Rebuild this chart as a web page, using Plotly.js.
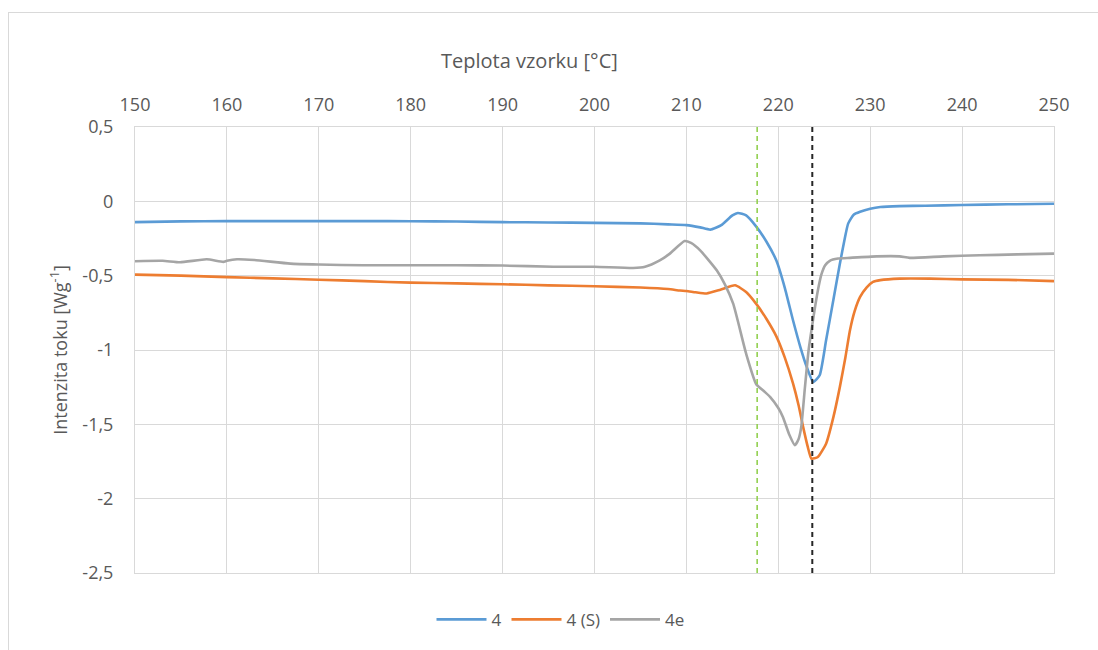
<!DOCTYPE html>
<html>
<head>
<meta charset="utf-8">
<script src="https://cdn.plot.ly/plotly-3.0.1.min.js"></script>
<style>
html,body{margin:0;padding:0;background:#fff;overflow:hidden;}
#wrap{position:relative;width:1098px;height:650px;}
#chart{width:1098px;height:650px;}
#frame{position:absolute;left:8px;top:12px;width:1200px;height:800px;border-left:1px solid #d9d9d9;border-top:1px solid #d9d9d9;pointer-events:none;}
</style>
</head>
<body>
<div id="wrap"><div id="chart"></div><div id="frame"></div></div>
<script>
// Series "4"
const t4 = [150,155,160,165,170,175,180,185,190,195,200,205,208,210,211.5,212.6,213.8,215,215.6,216.5,217.6,218.7,219.8,220.7,221.6,222.4,223.1,223.8,224.5,225.2,226,226.7,227.2,227.6,228.2,228.9,230,231.1,233.2,236,240,245,250];
const v4 = [-0.14,-0.135,-0.133,-0.133,-0.133,-0.133,-0.134,-0.136,-0.14,-0.142,-0.145,-0.148,-0.155,-0.16,-0.175,-0.19,-0.16,-0.095,-0.078,-0.095,-0.17,-0.27,-0.40,-0.58,-0.80,-0.98,-1.115,-1.215,-1.17,-0.935,-0.66,-0.42,-0.26,-0.15,-0.09,-0.07,-0.05,-0.038,-0.032,-0.03,-0.025,-0.02,-0.016];
// Series "4 (S)"
const t4s = [150,155,160,165,170,175,180,185,190,195,200,205,208,209.3,210,211,212.2,213.7,215.3,216.5,217.6,218.7,219.8,220.7,221.6,222.2,222.7,223.2,223.6,224.3,225.2,226,226.7,227.3,227.8,228.3,228.9,229.6,230.3,231.1,233.2,236.5,240,245,250];
const v4s = [-0.493,-0.50,-0.51,-0.518,-0.527,-0.537,-0.547,-0.552,-0.558,-0.565,-0.571,-0.58,-0.59,-0.6,-0.603,-0.612,-0.62,-0.595,-0.565,-0.61,-0.69,-0.79,-0.91,-1.05,-1.225,-1.37,-1.517,-1.65,-1.73,-1.72,-1.63,-1.45,-1.248,-1.05,-0.867,-0.74,-0.643,-0.58,-0.542,-0.53,-0.52,-0.52,-0.525,-0.528,-0.537];
// Series "4e"
const t4e = [150,153,154.9,157.8,159.6,160,161.1,163,166.9,170,174.8,180,185,190,195.5,200,204.2,205.5,207.1,208.2,209.8,210.5,211.5,213.3,214.2,215.1,216.5,217.6,218.5,219.1,220.0,220.5,221.2,221.8,222.2,222.5,222.9,223.3,223.7,224.0,224.4,224.7,225.1,225.6,226.5,227.8,230.7,233.2,234.3,238,241.9,246,250];
const v4e = [-0.403,-0.40,-0.41,-0.39,-0.407,-0.40,-0.39,-0.395,-0.419,-0.425,-0.43,-0.43,-0.43,-0.432,-0.44,-0.44,-0.448,-0.44,-0.397,-0.352,-0.267,-0.28,-0.33,-0.464,-0.56,-0.69,-1.025,-1.23,-1.28,-1.315,-1.39,-1.45,-1.57,-1.64,-1.6,-1.517,-1.25,-1.0,-0.83,-0.71,-0.57,-0.49,-0.43,-0.40,-0.385,-0.38,-0.37,-0.37,-0.38,-0.37,-0.363,-0.357,-0.352];

const seriesNames = ['4','4 (S)','4e'];
const markerTemps = [217.7, 223.7];
const yTickVals = [0.5,0,-0.5,-1,-1.5,-2,-2.5];
const yTickText = ['0,5','0','-0,5','-1','-1,5','-2','-2,5'];
const xTitle = 'Teplota vzorku [°C]';
const yTitle = 'Intenzita toku [Wg<sup>-1</sup>]';

const FAM = '"Open Sans", "Noto Sans", sans-serif';
const TXT = '#595959';
const mk = (x,y,name,color)=>({x:x,y:y,name:name,type:'scatter',mode:'lines',
  line:{color:color,width:2.6,shape:'spline',smoothing:0.5},hoverinfo:'skip'});

const data = [
  mk(t4,v4,seriesNames[0],'#5b9bd5'),
  mk(t4s,v4s,seriesNames[1],'#ed7d31'),
  mk(t4e,v4e,seriesNames[2],'#a5a5a5')
];

const layout = {
  width:1098, height:650,
  margin:{l:135,r:44,t:127,b:77},
  paper_bgcolor:'#fff', plot_bgcolor:'#fff',
  font:{family:FAM,size:17,color:TXT},
  showlegend:true,
  legend:{orientation:'h',x:0.463,xanchor:'center',y:-0.105,yanchor:'middle',
    font:{family:FAM,size:17,color:TXT},itemwidth:50,traceorder:'normal'},
  xaxis:{side:'top',range:[150,250],dtick:10,tick0:150,showgrid:true,gridcolor:'#d9d9d9',gridwidth:1,
    showline:true,linecolor:'#d9d9d9',mirror:true,zeroline:false,ticks:'',ticklabelstandoff:8,
    tickfont:{family:FAM,size:18,color:TXT}},
  yaxis:{range:[-2.5,0.5],tickvals:yTickVals,ticktext:yTickText,showgrid:true,gridcolor:'#d9d9d9',gridwidth:1,
    showline:true,linecolor:'#d9d9d9',mirror:true,zeroline:false,ticks:'',ticklabelstandoff:17,
    tickfont:{family:FAM,size:18,color:TXT},
    title:{text:yTitle,font:{family:FAM,size:18,color:TXT},standoff:10}},
  annotations:[
    {text:xTitle,xref:'paper',yref:'paper',x:0.4298,y:1.148,xanchor:'center',yanchor:'middle',showarrow:false,
      font:{family:FAM,size:20,color:TXT}}
  ],
  shapes:[
    {type:'line',xref:'x',yref:'paper',x0:markerTemps[0],x1:markerTemps[0],y0:0,y1:1,layer:'above',
      line:{color:'#92d050',width:1.6,dash:'5px,4px'}},
    {type:'line',xref:'x',yref:'paper',x0:markerTemps[1],x1:markerTemps[1],y0:0,y1:1,layer:'above',
      line:{color:'#262626',width:2,dash:'5px,4px'}}
  ]
};

Plotly.newPlot('chart',data,layout,{displayModeBar:false,staticPlot:true});
</script>
</body>
</html>
